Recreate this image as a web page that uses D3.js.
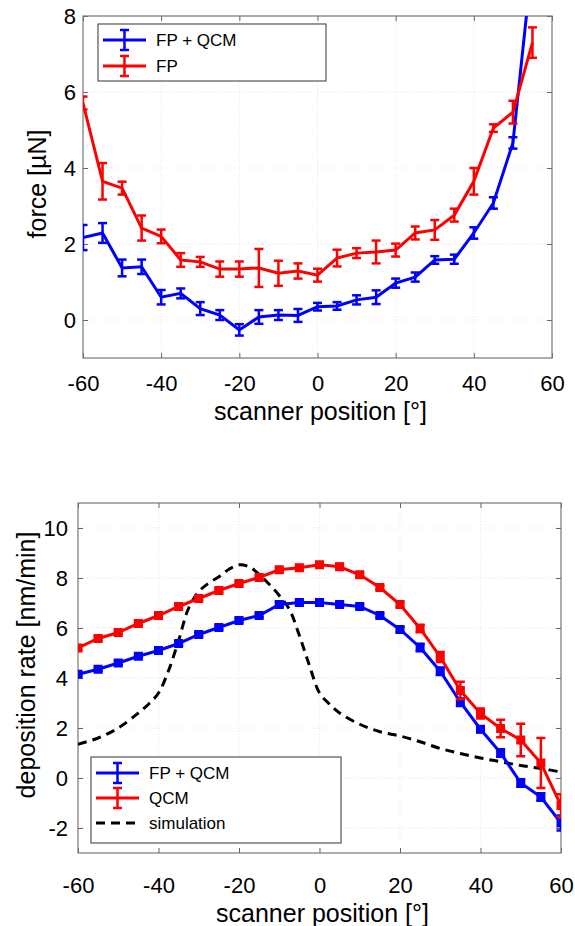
<!DOCTYPE html>
<html>
<head>
<meta charset="utf-8">
<script src="https://cdn.jsdelivr.net/npm/d3@7"></script>
<style>
  body { margin: 0; background: #fff; }
  svg { font-family: Arial, "Liberation Sans", sans-serif; }
  .grid line { stroke: #e6e6e6; stroke-dasharray: 1,2; }
</style>
</head>
<body>
<svg id="chart" width="575" height="926"></svg>
<script>
// scanner positions
const posTop = [-60,-55,-50,-45,-40,-35,-30,-25,-20,-15,-10,-5,0,5,10,15,20,25,30,35,40,45,50,55];
const posBot = [-60,-55,-50,-45,-40,-35,-30,-25,-20,-15,-10,-5,0,5,10,15,20,25,30,35,40,45,50,55,60];

// force, FP + QCM
const forceFpQcm = [2.17,2.29,1.37,1.4,0.6,0.7,0.3,0.13,-0.26,0.08,0.13,0.12,0.35,0.37,0.53,0.6,0.97,1.13,1.58,1.6,2.29,3.08,4.66,9.5];
const forceFpQcmErr = [0.33,0.26,0.22,0.19,0.19,0.13,0.17,0.13,0.15,0.18,0.13,0.17,0.1,0.1,0.12,0.18,0.12,0.12,0.1,0.12,0.15,0.15,0.15,0.2];
// force, FP
const forceFp = [5.71,3.65,3.47,2.42,2.2,1.58,1.53,1.34,1.34,1.37,1.23,1.29,1.18,1.63,1.76,1.79,1.84,2.29,2.37,2.76,3.65,5.05,5.47,7.3];
const forceFpErr = [0.17,0.48,0.17,0.33,0.18,0.18,0.13,0.2,0.2,0.5,0.33,0.2,0.17,0.22,0.13,0.3,0.17,0.17,0.26,0.17,0.35,0.1,0.3,0.4];

// deposition rate, FP + QCM
const rateFpQcm = [4.15,4.35,4.6,4.87,5.1,5.38,5.74,6.02,6.3,6.5,6.94,7.02,7.02,6.94,6.86,6.5,5.94,5.22,4.27,3.03,1.95,1.0,-0.2,-0.76,-1.8];
const rateFpQcmErr = [0.08,0.08,0.08,0.08,0.08,0.08,0.08,0.08,0.08,0.08,0.1,0.08,0.08,0.08,0.08,0.08,0.1,0.15,0.15,0.15,0.12,0.15,0.15,0.15,0.3];
// deposition rate, QCM
const rateQcm = [5.2,5.58,5.82,6.18,6.5,6.86,7.18,7.5,7.78,8.02,8.33,8.41,8.53,8.45,8.13,7.62,6.94,5.98,4.84,3.5,2.58,1.98,1.52,0.6,-1.1];
const rateQcmErr = [0.08,0.08,0.08,0.08,0.08,0.08,0.08,0.08,0.08,0.08,0.08,0.08,0.1,0.12,0.08,0.08,0.1,0.15,0.2,0.35,0.2,0.35,0.65,1.0,0.45];
// simulation curve
const simPos = [-60,-55,-50,-45,-42.5,-40,-37.5,-35,-32.5,-30,-27.5,-25,-22.5,-20,-17.5,-15,-12.5,-10,-7.5,-5,-2.5,0,2.5,5,10,15,20,25,30,35,40,45,50,55,60];
const simRate = [1.35,1.6,2.0,2.6,2.95,3.4,4.3,5.5,6.8,7.45,7.8,8.05,8.35,8.53,8.45,8.15,7.75,7.3,6.75,5.7,4.5,3.4,2.95,2.6,2.15,1.85,1.68,1.45,1.18,0.98,0.8,0.65,0.5,0.38,0.24];

const xTicks = [-60,-40,-20,0,20,40,60];
const yTicksTop = [0,2,4,6,8];
const yTicksBot = [-2,0,2,4,6,8,10];

const blue = "#0000ff", red = "#ff0000";
const svg = d3.select("#chart");

function drawPanel(opt) {
  const x = d3.scaleLinear().domain([-60, 60]).range([opt.left, opt.right]);
  const y = d3.scaleLinear().domain(opt.yDomain).range([opt.bottom, opt.top]);
  const g = svg.append("g");

  // clip to axes box
  const clipId = "clip" + opt.id;
  svg.append("clipPath").attr("id", clipId)
    .append("rect")
    .attr("x", opt.left).attr("y", opt.top)
    .attr("width", opt.right - opt.left).attr("height", opt.bottom - opt.top);

  // grid
  const grid = g.append("g").attr("class", "grid");
  grid.selectAll(".gx").data(xTicks.slice(1, -1)).enter().append("line")
    .attr("x1", d => x(d)).attr("x2", d => x(d))
    .attr("y1", opt.top).attr("y2", opt.bottom);
  grid.selectAll(".gy").data(opt.yTicks).enter().append("line")
    .attr("x1", opt.left).attr("x2", opt.right)
    .attr("y1", d => y(d)).attr("y2", d => y(d));

  // axes (ticks inside, matlab style), plain hyphen for negatives
  const fmt = d => String(d);
  const ax = d3.axisBottom(x).tickValues(xTicks).tickSize(-5).tickPadding(opt.xPad).tickFormat(fmt);
  const axT = d3.axisTop(x).tickValues(xTicks).tickSize(-5).tickFormat("");
  const ay = d3.axisLeft(y).tickValues(opt.yTicks).tickSize(-5).tickPadding(opt.yPad).tickFormat(fmt);
  const ayR = d3.axisRight(y).tickValues(opt.yTicks).tickSize(-5).tickFormat("");

  [
    g.append("g").attr("transform", `translate(0,${opt.bottom})`).call(ax),
    g.append("g").attr("transform", `translate(0,${opt.top})`).call(axT),
    g.append("g").attr("transform", `translate(${opt.left},0)`).call(ay),
    g.append("g").attr("transform", `translate(${opt.right},0)`).call(ayR)
  ].forEach(a => {
    a.select(".domain").remove();
    a.selectAll("line").attr("stroke", "#666");
    a.selectAll("text").attr("fill", "#000").style("font-size", "22px");
  });

  g.append("rect")
    .attr("x", opt.left).attr("y", opt.top)
    .attr("width", opt.right - opt.left).attr("height", opt.bottom - opt.top)
    .attr("fill", "none").attr("stroke", "#777").attr("stroke-width", 1.2);

  const plot = g.append("g").attr("clip-path", `url(#${clipId})`);

  if (opt.sim) {
    plot.append("path")
      .datum(opt.sim.pos.map((p, i) => [p, opt.sim.vals[i]]))
      .attr("fill", "none").attr("stroke", "#000").attr("stroke-width", 3)
      .attr("stroke-dasharray", "9,6")
      .attr("d", d3.line().x(d => x(d[0])).y(d => y(d[1])).curve(d3.curveCatmullRom));
  }

  opt.series.forEach(s => {
    const pts = opt.pos.map((p, i) => ({ p: p, v: s.vals[i], e: s.err[i] }));
    const sg = plot.append("g");
    sg.append("path").datum(pts)
      .attr("fill", "none").attr("stroke", s.color).attr("stroke-width", 3)
      .attr("d", d3.line().x(d => x(d.p)).y(d => y(d.v)));
    const eb = sg.selectAll(".eb").data(pts).enter().append("g")
      .attr("stroke", s.color).attr("stroke-width", 2.5);
    eb.append("line")
      .attr("x1", d => x(d.p)).attr("x2", d => x(d.p))
      .attr("y1", d => y(d.v - d.e)).attr("y2", d => y(d.v + d.e));
    eb.append("line")
      .attr("x1", d => x(d.p) - 4.5).attr("x2", d => x(d.p) + 4.5)
      .attr("y1", d => y(d.v - d.e)).attr("y2", d => y(d.v - d.e));
    eb.append("line")
      .attr("x1", d => x(d.p) - 4.5).attr("x2", d => x(d.p) + 4.5)
      .attr("y1", d => y(d.v + d.e)).attr("y2", d => y(d.v + d.e));
    if (opt.markers) {
      sg.selectAll(".mk").data(pts).enter().append("rect")
        .attr("x", d => x(d.p) - 4.5).attr("y", d => y(d.v) - 4.5)
        .attr("width", 9).attr("height", 9).attr("fill", s.color);
    }
  });

  // axis labels
  svg.append("text")
    .attr("x", (opt.left + opt.right) / 2 + 3).attr("y", opt.xLabelY)
    .attr("text-anchor", "middle").style("font-size", "25px")
    .text("scanner position [°]");
  svg.append("text")
    .attr("transform", `translate(${opt.yLabelX},${opt.yLabelC}) rotate(-90)`)
    .attr("text-anchor", "middle").style("font-size", "25px")
    .text(opt.yLabel);

  // legend
  const lg = svg.append("g");
  lg.append("rect")
    .attr("x", opt.legend.x).attr("y", opt.legend.y)
    .attr("width", opt.legend.w).attr("height", opt.legend.h)
    .attr("fill", "#fff").attr("stroke", "#555").attr("stroke-width", 1.2);
  opt.legend.items.forEach((it, i) => {
    const yy = opt.legend.y + 16 + i * opt.legend.step;
    const x0 = opt.legend.x + 5, x1 = opt.legend.x + 48, xc = (x0 + x1) / 2;
    lg.append("line").attr("x1", x0).attr("x2", x1).attr("y1", yy).attr("y2", yy)
      .attr("stroke", it.color).attr("stroke-width", 3)
      .attr("stroke-dasharray", it.dash ? "9,6" : null);
    if (!it.dash) {
      lg.append("line").attr("x1", xc).attr("x2", xc).attr("y1", yy - 10).attr("y2", yy + 10)
        .attr("stroke", it.color).attr("stroke-width", 2.5);
      [yy - 10, yy + 10].forEach(cy => lg.append("line")
        .attr("x1", xc - 4.5).attr("x2", xc + 4.5).attr("y1", cy).attr("y2", cy)
        .attr("stroke", it.color).attr("stroke-width", 2.5));
    }
    lg.append("text").attr("x", opt.legend.x + 58).attr("y", yy + 6)
      .style("font-size", "17px").text(it.label);
  });
}

drawPanel({
  id: "top", left: 83, right: 552, top: 16, bottom: 358,
  yDomain: [-1, 8], yTicks: yTicksTop, pos: posTop, markers: false,
  series: [
    { vals: forceFpQcm, err: forceFpQcmErr, color: blue },
    { vals: forceFp, err: forceFpErr, color: red }
  ],
  xPad: 17, yPad: 7,
  xLabelY: 420, yLabelX: 46, yLabelC: 184, yLabel: "force [µN]",
  legend: { x: 98, y: 24, w: 228, h: 57, step: 26, items: [
    { label: "FP + QCM", color: blue }, { label: "FP", color: red }
  ] }
});

drawPanel({
  id: "bot", left: 78, right: 561, top: 503, bottom: 853,
  yDomain: [-3, 11], yTicks: yTicksBot, pos: posBot, markers: true,
  series: [
    { vals: rateFpQcm, err: rateFpQcmErr, color: blue },
    { vals: rateQcm, err: rateQcmErr, color: red }
  ],
  sim: { pos: simPos, vals: simRate },
  xPad: 24, yPad: 10,
  xLabelY: 922, yLabelX: 35, yLabelC: 665, yLabel: "deposition rate [nm/min]",
  legend: { x: 91, y: 757, w: 250, h: 86, step: 25, items: [
    { label: "FP + QCM", color: blue }, { label: "QCM", color: red },
    { label: "simulation", color: "#000", dash: true }
  ] }
});
</script>
</body>
</html>
